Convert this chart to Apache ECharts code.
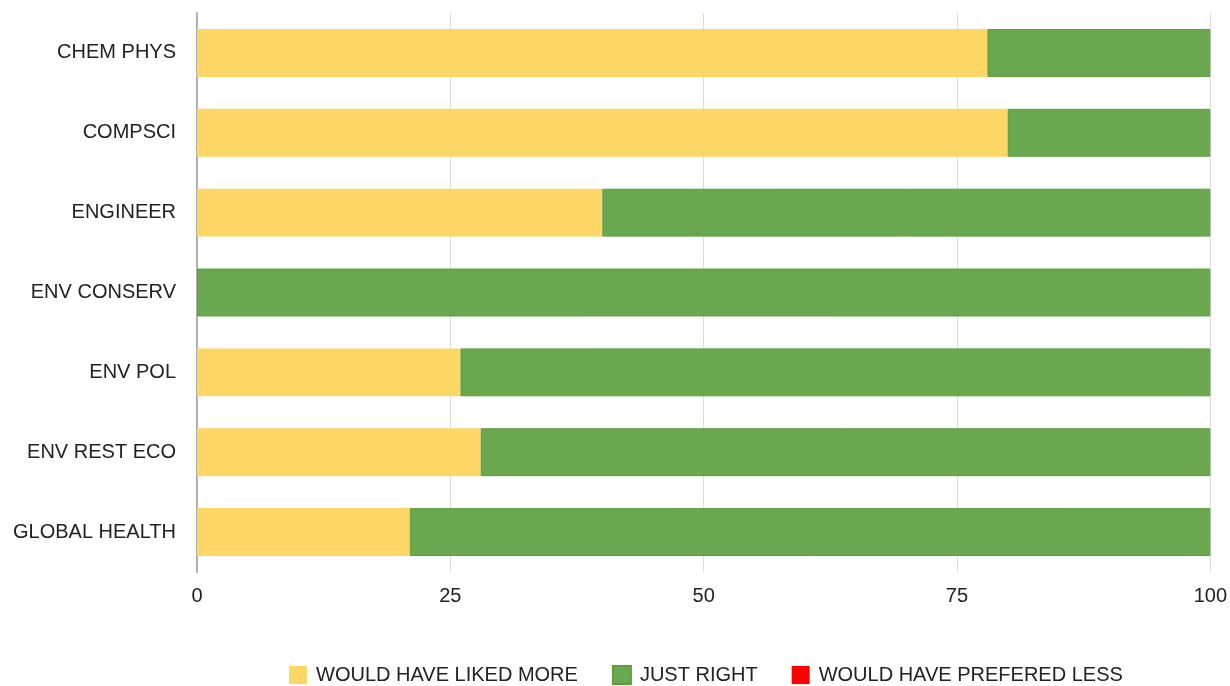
<!DOCTYPE html>
<html>
<head>
<meta charset="utf-8">
<script src="https://cdn.jsdelivr.net/npm/echarts@6/dist/echarts.min.js"></script>
<style>
  html, body { margin: 0; padding: 0; background: #fff; }
  #chart { width: 1230px; height: 686px; }
</style>
</head>
<body>
<div id="chart"></div>
<script>
// Programme categories, top to bottom
const categories = ['CHEM PHYS', 'COMPSCI', 'ENGINEER', 'ENV CONSERV', 'ENV POL', 'ENV REST ECO', 'GLOBAL HEALTH'];
// Share of responses (%) per category
const likedMore = [78, 80, 40, 0, 26, 28, 21];
const justRight = [22, 20, 60, 100, 74, 72, 79];
const preferredLess = [0, 0, 0, 0, 0, 0, 0];
const xTicks = [0, 25, 50, 75, 100];

const chart = echarts.init(document.getElementById('chart'));

const labelFont = { fontFamily: '"Liberation Sans", Arial, sans-serif', fontSize: 20, color: '#222' };

chart.setOption({
  animation: false,
  grid: { left: 197, right: 19, top: 13, bottom: 114, containLabel: false },
  legend: {
    left: 284,
    top: 660,
    itemWidth: 18,
    itemHeight: 18,
    itemGap: 34,
    icon: 'rect',
    textStyle: { fontFamily: '"Liberation Sans", Arial, sans-serif', fontSize: 20, color: '#222', padding: [0, 0, 0, 4] },
    data: ['WOULD HAVE LIKED MORE', 'JUST RIGHT', 'WOULD HAVE PREFERED LESS']
  },
  xAxis: {
    type: 'value',
    min: xTicks[0],
    max: xTicks[xTicks.length - 1],
    interval: 25,
    axisLine: { show: false },
    axisTick: { show: false },
    splitLine: { show: true, lineStyle: { color: '#dcdcdc', width: 1 } },
    axisLabel: Object.assign({ margin: 14 }, labelFont)
  },
  yAxis: {
    type: 'category',
    inverse: true,
    data: categories,
    axisLine: { show: true, lineStyle: { color: '#b0b0b0', width: 2 } },
    axisTick: { show: false },
    axisLabel: Object.assign({ margin: 21, padding: [4, 0, 0, 0] }, labelFont)
  },
  series: [
    {
      name: 'WOULD HAVE LIKED MORE', type: 'bar', stack: 'total', barWidth: '60%',
      itemStyle: { color: '#fdd766' },
      data: likedMore
    },
    {
      name: 'JUST RIGHT', type: 'bar', stack: 'total', barWidth: '60%',
      itemStyle: { color: '#6aa84f', borderColor: '#5c9e3c', borderWidth: 1 },
      data: justRight
    },
    {
      name: 'WOULD HAVE PREFERED LESS', type: 'bar', stack: 'total', barWidth: '60%',
      itemStyle: { color: '#ff0000' },
      data: preferredLess
    }
  ]
});
</script>
</body>
</html>
